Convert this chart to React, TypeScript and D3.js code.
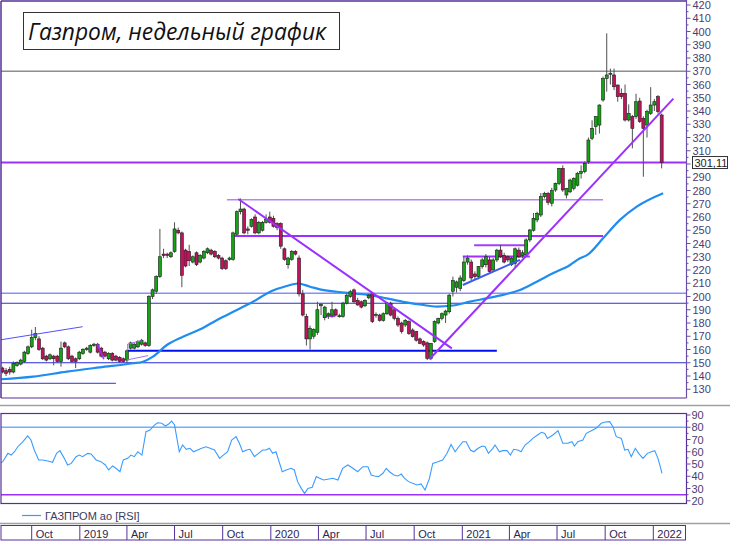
import * as d3 from 'd3';
import React from 'react';

const START = Date.UTC(2018, 7, 6);
const WEEK = 7 * 864e5;

// weekly candles Aug 2018 .. Jan 2022, [open, high, low, close]
const candles: number[][] = [
	[146, 147, 142, 143], [144, 146, 140, 142], [145, 147, 141, 143], [143, 151, 142, 149.6], [148, 151, 147, 150],
	[149, 153, 148, 152], [151, 159, 150, 158], [157, 163, 156, 162], [162, 175, 161, 169], [169, 177, 167, 172],
	[168, 170, 159, 160], [161, 162, 152, 153], [155, 156, 151, 152], [153, 157, 152, 156], [155, 156, 148, 153],
	[155, 156, 150, 151], [151, 166, 147, 161], [165, 166, 161, 162], [162, 163, 152, 153], [155, 156, 150, 151],
	[153, 154, 146, 151], [153, 159, 152, 158], [157, 161, 156, 160], [160, 162, 159, 161], [158, 164, 157, 163],
	[163, 165, 162, 164], [164, 165, 157, 158], [161, 162, 154, 155], [158, 159, 154, 155], [153, 158, 152, 157],
	[157, 158, 151, 152], [155, 156, 151, 152], [154, 155, 150, 151], [153, 154, 150, 151], [152, 160, 150, 159],
	[161, 166, 160, 165], [161, 165, 160, 164], [162, 167, 161, 166], [164, 168, 163, 167], [165, 166, 162, 163],
	[163, 201, 162, 200], [200, 206, 198, 205], [204, 216, 202, 215], [215, 251, 214, 230], [232, 236, 229, 231],
	[232, 233, 229, 231], [230, 234, 229, 233], [234, 256, 233, 251], [250, 252, 247, 248], [248, 249, 207, 216],
	[235, 236, 222, 223], [234, 239, 223, 227], [226, 231, 225, 230], [233, 234, 223, 224], [226, 232, 225, 231],
	[229, 235, 228, 234], [233, 237, 232, 236], [235, 236, 231, 232], [234, 235, 229, 230], [231, 232, 228, 229],
	[229, 230, 220, 221], [227, 228, 220, 221], [228, 230, 227, 229], [228, 249, 227, 248], [247, 265, 246, 264],
	[264, 274, 262, 266], [266, 267, 247, 248], [251, 253, 247, 250], [253, 259, 252, 258], [260, 262, 247, 248],
	[248, 257, 247, 256], [250, 257, 249, 256], [256, 262, 255, 258], [260, 264, 255, 256], [259, 261, 252, 253],
	[255, 256, 250, 252], [255, 256, 236, 238], [236, 237, 227, 228], [224, 230, 221, 229], [228, 235, 227, 234],
	[234, 235, 231, 232], [229, 231, 200, 202], [202, 205, 185, 186], [185, 187, 163, 168], [168, 178, 160, 176],
	[170, 176, 168, 175], [173, 196, 171, 190], [193, 195, 186, 194], [184, 193, 182, 192], [186, 188, 183, 187],
	[186, 196, 184, 190], [190, 191, 185, 186], [185, 187, 184, 185.5], [185, 196, 184, 195], [195, 202, 194, 201],
	[200, 205, 199, 203.6], [205, 206, 195, 196], [197, 199, 193, 193.6], [196, 197, 191, 192], [193, 198, 192, 197],
	[199, 202, 198, 201], [202, 203, 180, 181], [186, 188, 184, 186.5], [186, 187, 181, 182], [182, 188, 181, 187],
	[187, 196, 186, 195], [195, 196, 185, 186], [190, 191, 182, 183.5], [183.5, 185, 177, 178.5], [180, 181, 172, 173.5],
	[178.5, 183, 177, 182], [181, 182, 171, 172], [174.7, 176, 169, 169.7], [173.5, 174, 166, 167], [168, 169, 164, 164.6],
	[166, 167, 162, 163.4], [165, 166, 152, 153.3], [153.3, 165, 152, 164.6], [166, 182, 165, 181], [180, 184, 179, 183.5],
	[183.5, 188, 182, 187], [186, 190, 180, 189], [188.5, 202, 187, 201], [204, 215, 200, 212], [207, 212, 203, 211],
	[206, 216, 204, 214], [212, 230, 211, 226], [226, 231, 224, 229], [226, 228, 212, 214], [217, 219, 213, 215],
	[215, 223, 213, 222.6], [222.6, 229, 221, 227.6], [224, 232, 222, 230], [227.6, 230, 218, 218.8], [220, 229, 219, 227.6],
	[227.6, 236, 226, 235], [235, 239, 229, 230], [231, 233, 225, 226], [230, 231, 226, 227.6], [224, 230, 223, 229],
	[225, 237, 222, 236], [235, 237, 229, 230], [231, 235, 229, 233], [231.4, 244, 230, 242.7], [242.7, 251, 241, 250.2],
	[250, 263, 249, 259], [257.8, 264, 256, 262.8], [261.5, 278, 260, 275.4], [275.4, 279, 274, 277.9], [277.9, 279, 269, 271],
	[270.4, 282, 268, 280], [280.4, 286, 279, 285.4], [285.4, 297, 284, 296.7], [296.7, 299, 279, 280.4], [276.6, 282, 274, 281.6],
	[279, 289, 278, 287.9], [281.6, 290, 280, 289.2], [284, 294, 283, 292.9], [293, 299, 289, 294.2], [294.2, 302, 293, 300.5],
	[301.8, 320, 300, 318.1], [319.4, 333, 318, 326.9], [328.2, 336, 322, 335.7], [329.4, 345, 323, 344.5], [348.3, 366, 347, 364.6],
	[364.6, 398.6, 354.6, 367.2], [368, 372, 360, 368.5], [367.2, 372, 355.8, 358.3], [359.6, 360, 347, 350.8], [353.3, 357, 349, 350.8],
	[353.3, 360, 332, 333.2], [333.2, 345, 332, 338.2], [335.7, 337, 311.8, 326.9], [335.7, 353, 334, 347], [347.5, 350, 331, 332],
	[334.5, 336, 290.4, 326.9], [329.4, 341, 320, 339.5], [338.2, 358, 337, 344.5], [344.5, 349, 340, 347], [350.8, 352, 338, 339.5],
	[337, 338, 296.7, 301.11],
];

// moving average, [week, value]
const maPoints: number[][] = [
	[-0.7, 137.5], [8.4, 139.5], [17.6, 143.3], [26.6, 146.5], [35.7, 149.6], [38.4, 150.8], [41.1, 154.6],
	[44.9, 163.4], [49.3, 169.7], [54, 175.2], [58.6, 182.3], [64, 189.8], [68.4, 196], [73.1, 203.6],
	[77.6, 207.9], [80.7, 209.8], [84, 207.4], [86.7, 205.4], [91.3, 203.6], [95.7, 202.4], [100.4, 201.1],
	[104.9, 198.6], [109.4, 196], [114, 194], [118.6, 192.4], [123, 193.2], [127.7, 196.1], [132.2, 198.6],
	[136.7, 201.2], [141.3, 204.9], [145.9, 211.2], [150.3, 217.5], [155, 223.8], [157.7, 228.8], [159.5, 231],
	[164, 243.9], [168.6, 257.8], [173.2, 267.8], [180.4, 277.9],
];

// RSI, [week, value]
const rsiPoints: number[][] = [
	[-0.8, 50.5], [0.1, 51.9], [1.5, 58.7], [2.4, 57.3], [3.3, 60], [4.2, 64.1], [5.6, 68.2], [6.9, 72.9], [7.8, 69.6],
	[8.7, 61.4], [9.9, 53.3], [11, 53.3], [12.4, 52.4], [13.7, 51.4], [14.8, 58.7], [15.7, 60.9], [16.9, 54.6],
	[17.8, 49.2], [18.8, 50.5], [20.1, 56], [21, 57.3], [21.9, 56], [23.3, 58.7], [24.2, 58.2], [25.6, 53.3],
	[26.9, 51.9], [28.1, 49.2], [29, 45.1], [30.1, 48.4], [31, 46.5], [32.1, 43.7], [33, 53.3], [34.2, 54.6],
	[35.1, 57.3], [36, 56], [37, 60], [38.1, 57.3], [39.2, 76.4], [40.3, 77.7], [41.5, 81.8], [42.4, 83.7],
	[43.5, 83.2], [44.5, 81], [45.4, 82.7], [46.2, 85.1], [47, 81.8], [48.3, 60], [49.2, 65.5], [50.2, 62],
	[51.2, 62.8], [52.2, 60], [53.3, 61.4], [54.4, 62.8], [55.6, 64.1], [56.7, 62.8], [57.9, 61.4], [59.3, 54.6],
	[60.3, 57.3], [61.5, 60], [62.6, 69.6], [63.8, 72.3], [64.7, 66.9], [65.6, 60], [66.7, 61.4], [67.6, 62],
	[68.8, 56], [69.9, 58.7], [71.1, 61.4], [72, 61.4], [72.9, 62.8], [73.8, 58.7], [74.7, 60], [76.4, 43.7],
	[77.5, 45.1], [78.8, 46.5], [79.7, 45.1], [80.6, 35.6], [81.6, 30.1], [82.5, 26], [83.4, 30.1], [84.6, 31],
	[85.7, 39.7], [86.6, 38.3], [87.7, 36.9], [88.8, 37.5], [90.2, 38.3], [91.6, 36.9], [92.9, 46.5], [94.3, 49.2],
	[95.7, 46.5], [97, 43.7], [98.4, 47.8], [99.8, 47.8], [100.7, 41], [101.6, 40.2], [102.7, 39.7], [103.9, 42.4],
	[104.8, 46.5], [105.7, 43.7], [106.9, 41], [108, 40.2], [108.9, 41.8], [109.8, 38.3], [110.9, 35.6], [112, 34.2],
	[113.2, 32.9], [114.3, 33.7], [115.4, 28.8], [116.6, 38.3], [117.5, 50.5], [118.9, 51.9], [120.2, 53.3],
	[121.4, 58.7], [122.5, 66], [123.6, 60], [124.6, 64.1], [125.7, 68.2], [126.6, 68.2], [127.8, 61.4], [128.7, 60],
	[129.9, 62.8], [131, 64.7], [131.8, 64.1], [132.7, 58.7], [133.9, 62.8], [134.5, 65.5], [135.7, 60], [136.6, 60.9],
	[137.8, 60.9], [138.7, 57.3], [139.6, 62], [140.7, 61.4], [141.6, 60], [142.7, 65.5], [143.9, 68.2], [144.8, 70.9],
	[146.1, 73.7], [147.2, 75.9], [148.1, 75], [148.8, 70.9], [150.3, 73.7], [151.7, 77.2], [153, 66.9], [154.4, 66.9],
	[155.5, 68.2], [156.2, 64.7], [157.1, 68.2], [158.5, 69.6], [159.4, 75], [160.8, 77.2], [162.1, 79.1], [163.5, 83.2],
	[164.6, 84.3], [165.8, 84.6], [166.7, 80.5], [167.6, 72.3], [169, 70.9], [169.9, 61.4], [170.8, 62], [171.7, 56],
	[172.8, 62.8], [173.7, 58.7], [174.9, 54.6], [176.1, 58.7], [177.2, 60], [178.1, 60.9], [179, 54.6], [180.1, 42.4],
];

const priceTicks = d3.range(130, 421, 10);
const rsiTicks = d3.range(20, 91, 10);
const rsiLevels = [80, 25];
const lastPrice = 301.11;

// horizontal levels across the whole chart
const fullLevels = [370, 301.11, 202.4, 194.9, 150];
// shorter levels: [from week, to week, price]
const levelSegments: number[][] = [
	[61.3, 164, 273], [62.6, 164, 245.7], [128.8, 143.5, 238.6], [125.7, 144, 230.2],
	[34.3, 135, 159], [-1, 31, 134.5], [87.5, 90.8, 185.2],
];
// trend lines: list of [week, price]
const trendLines: number[][][] = [
	[[64.4, 273.6], [122.7, 160.8]],
	[[116.6, 152.6], [183.2, 349.3]],
	[[-0.7, 167.2], [21.9, 177.2]],
	[[125.7, 208.7], [141.3, 227.6]],
	[[34.2, 159.6], [34.2, 164.1], [38, 166.7]],
	[[34, 152.1], [39.8, 155.4]],
	[[25.9, 164.1], [27.7, 152.6]],
];

const fullStyle = [
	{ c: '#8e8e8e', w: 1.5 }, { c: '#9b30ff', w: 2 }, { c: '#8c8cff', w: 1.5 }, { c: '#2f2fdc', w: 1.2 }, { c: '#2a2ad8', w: 1.2 },
];
const segStyle = [
	{ c: '#b982f5', w: 1.5 }, { c: '#9b30ff', w: 2 }, { c: '#a040ff', w: 2 }, { c: '#9b30ff', w: 2 },
	{ c: '#0010ee', w: 2 }, { c: '#3535d5', w: 1 }, { c: '#9b30ff', w: 2 },
];
const trendStyle = [
	{ c: '#9b30ff', w: 2 }, { c: '#9b30ff', w: 2 }, { c: '#5050ff', w: 1 }, { c: '#3a5cf0', w: 2 },
	{ c: '#a070f0', w: 1 }, { c: '#a070f0', w: 1 }, { c: '#9b30ff', w: 1.5 },
];

const FRAME = '#55309a';
const AXIS = '#6a4fa6';
const LABEL = '#4a3d72';
const FONT = "'Liberation Sans', Arial, sans-serif";

export default function App() {
	const plot = { left: 1, right: 686.5, top: 1, bottom: 398 };
	const rsiBox = { top: 413.5, bottom: 503.5 };

	const x = d3
		.scaleUtc()
		.domain([new Date(Date.UTC(2018, 9, 1)), new Date(Date.UTC(2022, 0, 1))])
		.range([31.7, 653.3]);
	const xw = (w: number) => x(new Date(START + w * WEEK));
	const y = d3.scaleLinear().domain([130, 420]).range([389.25, 5]);
	const yr = d3.scaleLinear().domain([20, 90]).range([500.75, 415]);

	const maLine = d3
		.line<number[]>()
		.x(d => xw(d[0]))
		.y(d => y(d[1]))
		.curve(d3.curveMonotoneX);
	const rsiLine = d3
		.line<number[]>()
		.x(d => xw(d[0]))
		.y(d => yr(d[1]));
	const tl = d3
		.line<number[]>()
		.x(d => xw(d[0]))
		.y(d => y(d[1]));

	const quarters = d3.utcMonth.every(3)!.range(new Date(Date.UTC(2018, 9, 1)), new Date(Date.UTC(2022, 0, 2)));
	const fmtMonth = d3.utcFormat('%b');
	const qLabel = (d: Date) => (d.getUTCMonth() === 0 ? String(d.getUTCFullYear()) : fmtMonth(d));
	const bw = 3;
	// the last-price box hides the tick label it sits on
	const shownTicks = priceTicks.filter(t => Math.abs(y(t) - y(lastPrice)) > 8);

	return (
		<svg
			width={730}
			height={542}
			style={{ position: 'absolute', left: 0, top: 0, fontFamily: FONT }}
		>
			<rect x={0} y={0} width={730} height={542} fill="#fff" />
			<defs>
				<clipPath id="plotClip">
					<rect x={plot.left} y={plot.top} width={plot.right - plot.left} height={plot.bottom - plot.top} />
				</clipPath>
				<clipPath id="rsiClip">
					<rect x={plot.left} y={rsiBox.top} width={plot.right - plot.left} height={rsiBox.bottom - rsiBox.top} />
				</clipPath>
			</defs>

			{/* main price panel */}
			<g clipPath="url(#plotClip)">
				{fullLevels.map((p, i) => (
					<line key={'f' + i} x1={plot.left} x2={plot.right} y1={y(p)} y2={y(p)} stroke={fullStyle[i].c} strokeWidth={fullStyle[i].w} />
				))}
				{levelSegments.map((s, i) => (
					<line key={'s' + i} x1={xw(s[0])} x2={xw(s[1])} y1={y(s[2])} y2={y(s[2])} stroke={segStyle[i].c} strokeWidth={segStyle[i].w} />
				))}
				<path d={maLine(maPoints) || ''} fill="none" stroke="#1e8cf0" strokeWidth={2.2} />
				{candles.map((c, i) => {
					const cx = xw(i);
					const up = c[3] >= c[0];
					const top = y(Math.max(c[0], c[3]));
					const h = Math.max(1, Math.abs(y(c[0]) - y(c[3])));
					return (
						<g key={'c' + i}>
							<line x1={cx} x2={cx} y1={y(c[1])} y2={y(c[2])} stroke="#505050" strokeWidth={1} />
							<rect
								x={cx - bw / 2}
								y={top}
								width={bw}
								height={h}
								fill={up ? '#14a314' : '#c2125c'}
								stroke="#1e1e1e"
								strokeWidth={0.6}
							/>
						</g>
					);
				})}
				{trendLines.map((t, i) => (
					<path key={'t' + i} d={tl(t) || ''} fill="none" stroke={trendStyle[i].c} strokeWidth={trendStyle[i].w} />
				))}
			</g>

			{/* frame and price axis */}
			<line x1={plot.left} x2={plot.right} y1={plot.top} y2={plot.top} stroke={FRAME} strokeWidth={1.5} />
			<line x1={plot.left} x2={plot.left} y1={plot.top} y2={plot.bottom} stroke={FRAME} strokeWidth={1.5} />
			<line x1={plot.left} x2={plot.right} y1={plot.bottom} y2={plot.bottom} stroke={FRAME} strokeWidth={1} />
			<line x1={plot.right} x2={plot.right} y1={0} y2={plot.bottom} stroke={AXIS} strokeWidth={1.2} />
			{priceTicks.map(t => (
				<line key={'pt' + t} x1={plot.right} x2={plot.right + 4} y1={y(t)} y2={y(t)} stroke={AXIS} />
			))}
			{shownTicks.map(t => (
				<text key={'pl' + t} x={plot.right + 6} y={y(t) + 4} fontSize={11} fill={LABEL}>
					{t}
				</text>
			))}
			{priceTicks.slice(0, -1).map(t => (
				<line key={'pm' + t} x1={plot.right} x2={plot.right + 2} y1={y(t + 5)} y2={y(t + 5)} stroke={AXIS} />
			))}
			<rect x={692.5} y={y(lastPrice) - 6} width={35} height={12} fill="#fff" stroke="#333" strokeWidth={1} />
			<text x={694.5} y={y(lastPrice) + 4} fontSize={11} fill="#222">
				{d3.format('.2f')(lastPrice).replace('.', ',')}
			</text>

			{/* title */}
			<rect x={23.5} y={12.5} width={316} height={37} fill="#fff" stroke="#333" strokeWidth={1} />
			<text
				x={28}
				y={40}
				fontSize={23}
				fontStyle="italic"
				fontFamily="'Open Sans', 'Noto Sans', sans-serif"
				fill="#111"
				textLength={298}
				lengthAdjust="spacingAndGlyphs"
			>
				Газпром, недельный график
			</text>

			<line x1={0} x2={730} y1={405.5} y2={405.5} stroke="#a0a0a0" strokeWidth={1.5} />

			{/* RSI panel */}
			<g clipPath="url(#rsiClip)">
				{rsiLevels.map((v, i) => (
					<line key={'rl' + v} x1={plot.left} x2={plot.right} y1={yr(v)} y2={yr(v)} stroke={i === 0 ? '#6fb0ff' : '#9b30ff'} strokeWidth={1.5} />
				))}
				<path d={rsiLine(rsiPoints) || ''} fill="none" stroke="#3a9cff" strokeWidth={1.1} />
			</g>
			<rect x={plot.left} y={rsiBox.top} width={plot.right - plot.left} height={rsiBox.bottom - rsiBox.top} fill="none" stroke={FRAME} strokeWidth={1.2} />
			{rsiTicks.map(t => (
				<g key={'rt' + t}>
					<line x1={plot.right} x2={plot.right + 4} y1={yr(t)} y2={yr(t)} stroke={AXIS} />
					<text x={plot.right + 5} y={yr(t) + 4} fontSize={11} fill={LABEL}>
						{t}
					</text>
				</g>
			))}
			{rsiTicks.slice(0, -1).map(t => (
				<line key={'rm' + t} x1={plot.right} x2={plot.right + 2} y1={yr(t + 5)} y2={yr(t + 5)} stroke={AXIS} />
			))}

			{/* legend */}
			<line x1={22} x2={41} y1={515.5} y2={515.5} stroke="#3a9cff" strokeWidth={1.2} />
			<text x={45} y={519.5} fontSize={11} fill="#3a3a5a">
				ГАЗПРОМ ао [RSI]
			</text>

			{/* time axis */}
			<line x1={0} x2={730} y1={523.5} y2={523.5} stroke="#a0a0a0" strokeWidth={1.5} />
			<rect x={1} y={525.5} width={684.5} height={14.5} fill="none" stroke={FRAME} strokeWidth={1} />
			{quarters.map(d => (
				<g key={'q' + d.getTime()}>
					<line x1={x(d)} x2={x(d)} y1={525.5} y2={540} stroke={FRAME} strokeWidth={1} />
					<text x={x(d) + 4} y={537.5} fontSize={11} fill="#2d2550">
						{qLabel(d)}
					</text>
				</g>
			))}
		</svg>
	);
}
